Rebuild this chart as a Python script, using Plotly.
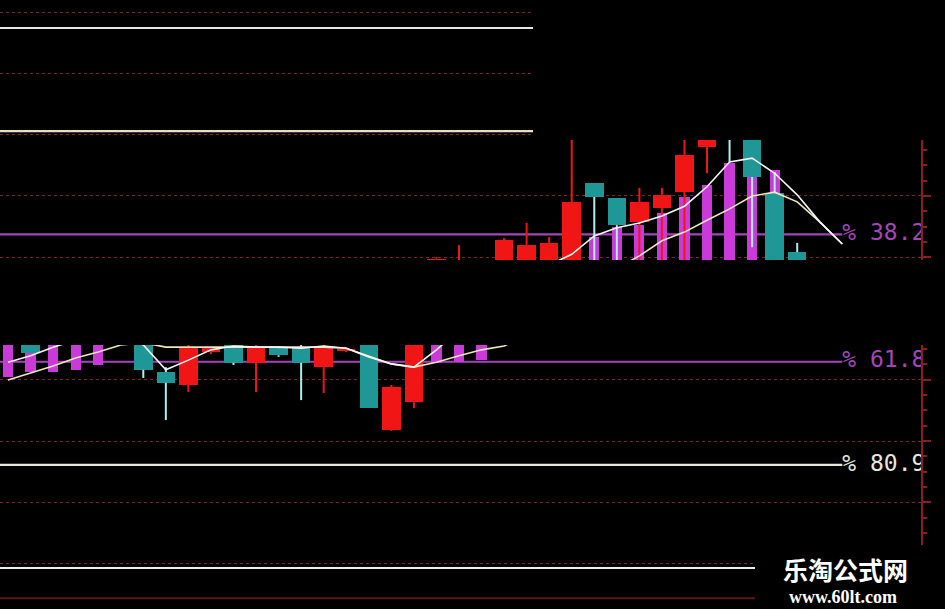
import plotly.graph_objects as go

# ---------------- data (retracement %, 0 = top of range) ----------------
idx = list(range(36))
opens  = [None, 56.0, None, None, None, None, 56.0, 63.7, 66.1, 60.0, 57.0, 62.0, 59.3, 59.1, 62.8, 59.8,
          57.0, 74.4, 69.3, 44.0, 45.0, 48.0, 43.5, 43.8, 43.6, 44.0, 28.7, 31.5, 35.9, 33.3, 30.4, 22.0,
          18.0, 19.8, 30.6, 41.5]
highs  = [None, 55.0, None, None, None, None, 55.0, 62.8, 58.0, 59.1, 56.0, 58.0, 59.0, 58.7, 58.0, 59.2,
          56.0, 66.1, 56.0, 42.4, 40.2, 43.5, 38.9, 36.1, 38.7, 19.5, 28.7, 31.5, 29.6, 29.6, 19.0, 18.5,
          17.5, 19.5, 26.7, 39.8]
lows   = [None, 60.2, None, None, None, None, 64.8, 72.6, 67.4, 60.4, 62.4, 67.4, 60.9, 68.9, 67.6, 60.0,
          70.4, 74.6, 70.4, 44.5, 46.0, 49.0, 44.5, 44.5, 44.0, 45.0, 44.0, 43.0, 43.0, 43.0, 43.0, 26.9,
          24.8, 40.6, 45.0, 43.5]
closes = [None, 60.2, None, None, None, None, 63.3, 65.7, 59.1, 59.3, 62.0, 59.1, 60.6, 62.0, 59.1, 59.4,
          70.4, 66.5, 57.0, 42.7, 43.5, 44.5, 39.3, 40.2, 39.8, 32.2, 31.3, 36.5, 32.2, 30.9, 23.5, 19.5,
          19.5, 27.6, 45.0, 43.0]

osc_base = 50.0
osc = [64.6, 63.7, 63.7, 63.3, 62.4, None, None, None, None, None, None, None, None, None, None, None,
       None, None, None, 62.0, 61.9, 61.5, None, None, None, 41.7, 38.7, 36.9, 36.5, 34.3, 31.3, 29.1,
       25.0, 25.0, 26.3, None]

ma_x = list(range(38))
ma_fast = [61.9, 60.7, 59.1, 57.8, 56.9, 56.9, 58.7, 63.3, 61.5, 59.6, 58.9, 59.1, 59.1, 59.3, 58.9, 59.3,
           60.9, 62.2, 62.8, 59.6, 55.9, 51.3, 47.6, 45.2, 43.9, 41.9, 38.5, 37.0, 36.1, 34.8, 33.0, 29.4,
           24.8, 24.1, 26.9, 30.9, 35.9, 40.0]
ma_slow = [65.2, 63.9, 62.6, 61.1, 60.0, 58.7, 58.3, 59.1, 59.1, 59.1, 59.1, 59.1, 59.1, 59.1, 59.1, 59.3,
           60.7, 62.2, 62.8, 61.9, 60.7, 59.6, 58.9, 56.9, 53.1, 49.4, 46.7, 44.4, 42.2, 39.4, 37.8, 35.6,
           33.5, 31.1, 30.4, 32.2, 35.9, 40.0]

fib_levels = [0.0, 19.1, 38.2, 61.8, 80.9, 100.0, 105.6]
# only the labels that are visible in the screenshot (others fall in blanked-out areas)
fib_labels = ["", "", "% 38.2", "% 61.8", "% 80.9", "", ""]
fib_colors = ["#e6e6e6", "#e9dfc4", "#a246b8", "#a246b8", "#e8e8dc", "#ededed", "#5e1616"]
fib_end = 37

# ---------------- styles ----------------
RED = "#f01616"
TEAL = "#1f9797"
TEAL_WICK = "#aeeeee"
MAGENTA = "#c93ad9"
AXIS = "#8a1e1e"

X_RANGE = [-0.355, 40.49]
Y_RANGE = [107.59, -5.185]

fig = go.Figure()

# oscillator columns
fig.add_trace(go.Bar(
    x=idx, y=[None if v is None else v - osc_base for v in osc], base=osc_base,
    width=0.45, marker=dict(color=MAGENTA, line=dict(width=0)), hoverinfo="skip"))

# candle bodies and wicks
for up in (True, False):
    bx, bb, bh = [], [], []
    wx, wy = [], []
    for i, o, h, l, c in zip(idx, opens, highs, lows, closes):
        if o is None:
            continue
        is_up = c <= o  # lower retracement value = higher price
        if is_up != up:
            continue
        top, bot = min(o, c), max(o, c)
        bx.append(i); bb.append(top); bh.append(max(bot - top, 0.3))
        if h < top:
            wx += [i, i, None]; wy += [h, top, None]
        if l > bot:
            wx += [i, i, None]; wy += [bot, l, None]
    col = RED if up else TEAL
    wcol = RED if up else TEAL_WICK
    fig.add_trace(go.Scatter(x=wx, y=wy, mode="lines", line=dict(color=wcol, width=2), hoverinfo="skip"))
    fig.add_trace(go.Bar(x=bx, y=bh, base=bb, width=0.82,
                         marker=dict(color=col, line=dict(width=0)), hoverinfo="skip"))

# moving averages
fig.add_trace(go.Scatter(x=ma_x, y=ma_slow, mode="lines", line=dict(color="#efe7bd", width=1.6), hoverinfo="skip"))
fig.add_trace(go.Scatter(x=ma_x, y=ma_fast, mode="lines", line=dict(color="#f6f6f6", width=1.6), hoverinfo="skip"))

# fibonacci levels (below traces)
shapes = []
for lv, colr in zip(fib_levels, fib_colors):
    shapes.append(dict(type="line", xref="x", yref="y", x0=X_RANGE[0] - 1, x1=fib_end, y0=lv, y1=lv,
                       line=dict(color=colr, width=2.2), layer="between"))

# fibonacci labels (clipped at the right axis)
for lv, lab, colr in zip(fib_levels, fib_labels, fib_colors):
    if not lab:
        continue
    fig.add_trace(go.Scatter(x=[fib_end], y=[lv], mode="text", text=[lab], textposition="middle right",
                             textfont=dict(family="DejaVu Sans Mono", size=23, color=colr),
                             cliponaxis=True, hoverinfo="skip"))

# black masks (blank areas of the screenshot)
masks = [
    (533 / 945, 1.0, 1 - 140 / 609, 1.0),
    (0.0, 1.0, 1 - 345 / 609, 1 - 260 / 609),
    (755 / 945, 1.0, 0.0, 1 - 545 / 609),
]
for x0, x1, y0, y1 in masks:
    shapes.append(dict(type="rect", xref="paper", yref="paper", x0=x0, x1=x1, y0=y0, y1=y1,
                       fillcolor="black", line=dict(width=0), layer="above"))

fig.update_layout(
    width=945, height=609, margin=dict(l=0, r=0, t=0, b=0),
    paper_bgcolor="black", plot_bgcolor="black", showlegend=False,
    barmode="overlay", bargap=0, shapes=shapes,
    xaxis=dict(domain=[0, 921 / 945], range=X_RANGE, visible=False, fixedrange=True),
    yaxis=dict(range=Y_RANGE, side="right", showline=True, linecolor=AXIS, linewidth=1.5,
               ticks="outside", ticklen=8, tickwidth=1.5, tickcolor=AXIS,
               tick0=-2.96, dtick=11.35, showticklabels=False,
               showgrid=True, gridcolor="#6e2c2c", griddash="dot", gridwidth=1.2,
               zeroline=False, fixedrange=True,
               minor=dict(ticks="outside", ticklen=4, tickcolor=AXIS, dtick=11.35 / 4, tick0=-2.96,
                          showgrid=False)),
    annotations=[
        dict(text="<b>乐淘公式网</b>", xref="paper", yref="paper", x=845 / 945, y=1 - 569 / 609,
             xanchor="center", yanchor="middle",
             showarrow=False, font=dict(family="Noto Sans CJK SC", size=25, color="white")),
        dict(text="<b>www.60lt.com</b>", xref="paper", yref="paper", x=843 / 945, y=1 - 597 / 609,
             xanchor="center", yanchor="middle",
             showarrow=False, font=dict(family="Liberation Serif", size=18, color="white")),
    ],
)

fig.write_html("out.html", config={"displayModeBar": False},
               post_script="document.body.style.margin='0';document.body.style.background='black';")
